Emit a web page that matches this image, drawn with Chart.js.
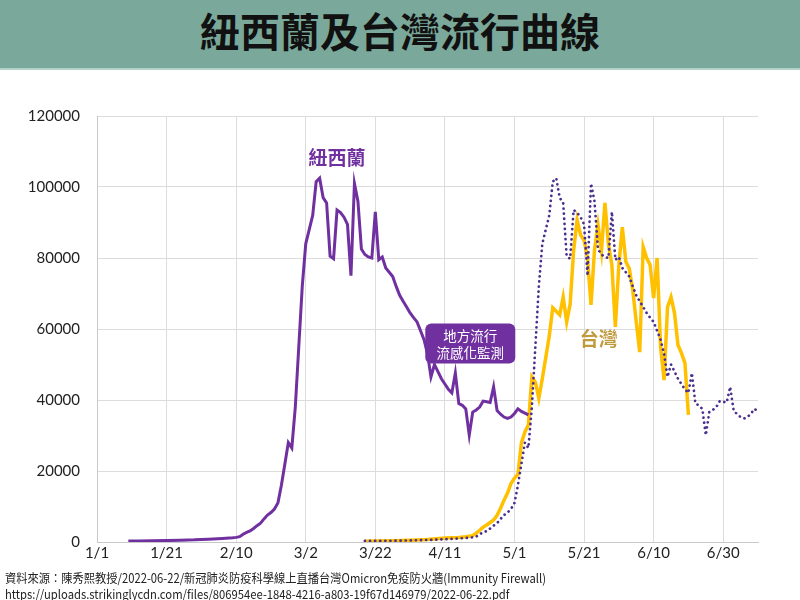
<!DOCTYPE html>
<html>
<head>
<meta charset="utf-8">
<script src="https://cdn.jsdelivr.net/npm/chart.js"></script>
<style>
  body { margin: 0; width: 800px; height: 600px; background: #fff; position: relative; overflow: hidden; font-family: "Noto Sans CJK TC", sans-serif; }
  #head { position: absolute; left: 0; top: 0; width: 800px; height: 68px; background: #7aa99b; border-bottom: 2px solid #b3d2c7; text-align: center; }
  #head h1 { margin: 0; font-size: 40px; line-height: 60px; font-weight: 700; color: #111; }
  #wrap { position: absolute; left: 0; top: 70px; width: 800px; height: 530px; }
  #src { position: absolute; left: 5px; top: 570px; font-size: 12.5px; line-height: 16px; color: #222; transform: scaleX(0.9); transform-origin: left top; white-space: nowrap; }
</style>
</head>
<body>
<div id="head"><h1>紐西蘭及台灣流行曲線</h1></div>
<div id="wrap"><canvas id="myChart" width="800" height="530"></canvas></div>
<div id="src">資料來源：陳秀熙教授/2022-06-22/新冠肺炎防疫科學線上直播台灣Omicron免疫防火牆(Immunity Firewall)<br>https://uploads.strikinglycdn.com/files/806954ee-1848-4216-a803-19f67d146979/2022-06-22.pdf</div>
<script>
// x values are days counted from 1/1 (day 0)
const xTickLabels = ['1/1', '1/21', '2/10', '3/2', '3/22', '4/11', '5/1', '5/21', '6/10', '6/30'];

// 紐西蘭 (New Zealand)
const nzDay = [9, 12, 16, 20, 24, 28, 32, 36, 39, 40,
  41, 42, 43, 44, 45, 46, 47, 48, 49, 50, 51, 52, 53, 54, 55, 56, 57, 58, 59, 60,
  61, 62, 63, 64, 65, 66, 67, 68, 69, 70, 71, 72, 73, 74, 75, 76, 77, 78, 79, 80,
  81, 82, 83, 84, 85, 86, 87, 88, 89, 90, 91, 92, 93, 94, 95, 96, 97, 98, 99, 100,
  101, 102, 103, 104, 105, 106, 107, 108, 109, 110, 111, 112, 113, 114, 115, 116, 117, 118, 119, 120,
  121, 122, 123, 124];
const nzCases = [300, 300, 350, 400, 500, 600, 800, 1000, 1200, 1300,
  1500, 2200, 2700, 3100, 3800, 4600, 5300, 6500, 7600, 8300, 9300, 11000, 16000, 22000, 28000, 26500, 38000, 55000, 72000, 84000,
  88000, 92000, 101500, 102500, 97000, 95500, 80500, 79800, 93500, 92800, 91500, 89500, 75000, 101000, 96000, 82500, 81000, 80300, 80000, 93000,
  79500, 80300, 77200, 76000, 74800, 72000, 69500, 67800, 66200, 64500, 63200, 62000, 59500, 57000, 53000, 46500, 50000, 48000, 46000, 44500,
  43000, 42000, 47600, 39000, 38500, 37500, 30100, 36600, 37200, 38000, 39700, 39500, 39300, 43700, 37000, 36000, 35200, 34800, 35200, 36200,
  37500, 36800, 36300, 35800];
// NZ curve laid over Taiwan's, shifted by this many days
const nzLag = 68;

// 台灣 (Taiwan)
const twDay = [77, 80, 85, 90, 95, 100, 104, 106, 108,
  109, 110, 111, 112, 113, 114, 115, 116, 117, 118, 119, 120, 121, 122, 123, 124, 125, 126, 127, 128, 129, 130,
  131, 132, 133, 134, 135, 136, 137, 138, 139, 140, 141, 142, 143, 144, 145, 146, 147, 148, 149, 150,
  151, 152, 153, 154, 155, 156, 157, 158, 159, 160, 161, 162, 163, 164, 165, 166, 167, 168, 169, 170];
const twCases = [200, 250, 350, 500, 700, 1100, 1300, 1500, 1800,
  2500, 3300, 4200, 4800, 5500, 6200, 7500, 9500, 11800, 13800, 16500, 18000, 19000, 28000, 31000, 33000, 46500, 45000, 40500, 46000, 52000, 58000,
  66000, 65000, 64000, 69000, 62000, 67000, 82000, 90700, 86500, 85000, 80000, 66800, 82300, 89300, 82000, 95500, 84000, 78000, 60600, 78000,
  88700, 79000, 77000, 71000, 62000, 53500, 83100, 80000, 78000, 68700, 80000, 54900, 45600, 66200, 69000, 64500, 55500, 53200, 50400, 35800];

const nzColor = '#7030a0';
const lagColor = '#4a2f8e';
const twColor = '#ffc000';
const tickFont = { family: 'Lato, "Open Sans", sans-serif', size: 15 };

let pts = (days, vals, shift) => days.map((d, i) => ({ x: d + shift, y: vals[i] }));

const notes = {
  id: 'notes',
  afterDatasetsDraw(chart) {
    const { ctx, scales: { x, y } } = chart;
    ctx.save();
    ctx.textAlign = 'center';
    ctx.textBaseline = 'middle';
    ctx.font = 'bold 19px "Noto Sans CJK TC"';
    ctx.fillStyle = nzColor;
    ctx.fillText('紐西蘭', x.getPixelForValue(69), y.getPixelForValue(108200));
    ctx.fillStyle = '#bf9b3e';
    ctx.fillText('台灣', x.getPixelForValue(144.2), y.getPixelForValue(57200));
    // purple box
    const bx = x.getPixelForValue(107.3), by = y.getPixelForValue(55900);
    ctx.fillStyle = nzColor;
    ctx.beginPath();
    ctx.roundRect(bx - 45, by - 20, 90, 40, 6);
    ctx.fill();
    ctx.fillStyle = '#fff';
    ctx.font = '13.5px "Noto Sans CJK TC"';
    ctx.fillText('地方流行', bx, by - 8);
    ctx.fillText('流感化監測', bx, by + 9);
    ctx.restore();
  }
};

const ctx = document.getElementById('myChart');
const chart = new Chart(ctx, {
  type: 'line',
  data: {
    datasets: [
      {
        label: '紐西蘭',
        data: pts(nzDay, nzCases, 0),
        borderColor: nzColor,
        borderWidth: 3,
        tension: 0
      },
      {
        label: '紐西蘭 (shifted)',
        data: pts(nzDay, nzCases, nzLag),
        borderColor: lagColor,
        borderWidth: 2.7,
        borderDash: [0.1, 5],
        borderCapStyle: 'round',
        tension: 0
      },
      {
        label: '台灣',
        data: pts(twDay, twCases, 0),
        borderColor: twColor,
        borderWidth: 3.5,
        tension: 0
      }
    ]
  },
  options: {
    responsive: false,
    animation: false,
    parsing: false,
    layout: { padding: { top: 46, right: 42, left: 0, bottom: 0 } },
    elements: { point: { radius: 0 } },
    plugins: { legend: { display: false }, tooltip: { enabled: false } },
    scales: {
      x: {
        type: 'linear',
        min: 0,
        max: 190,
        afterFit: (s) => { s.height = 58; },
        ticks: {
          stepSize: 20,
          includeBounds: false,
          autoSkip: false,
          maxRotation: 0,
          padding: 2,
          color: '#222',
          font: tickFont,
          callback: (v) => xTickLabels[Math.round(v / 20)] || ''
        },
        grid: { color: '#dcdcdc', drawTicks: false },
        border: { color: '#c8c8c8' }
      },
      y: {
        min: 0,
        max: 120000,
        afterFit: (s) => { s.width = 97; },
        ticks: { stepSize: 20000, padding: 17, color: '#222', font: tickFont, callback: (v) => String(v) },
        grid: { color: '#dcdcdc', drawTicks: false },
        border: { color: '#c8c8c8' }
      }
    }
  },
  plugins: [notes]
});
</script>
</body>
</html>
